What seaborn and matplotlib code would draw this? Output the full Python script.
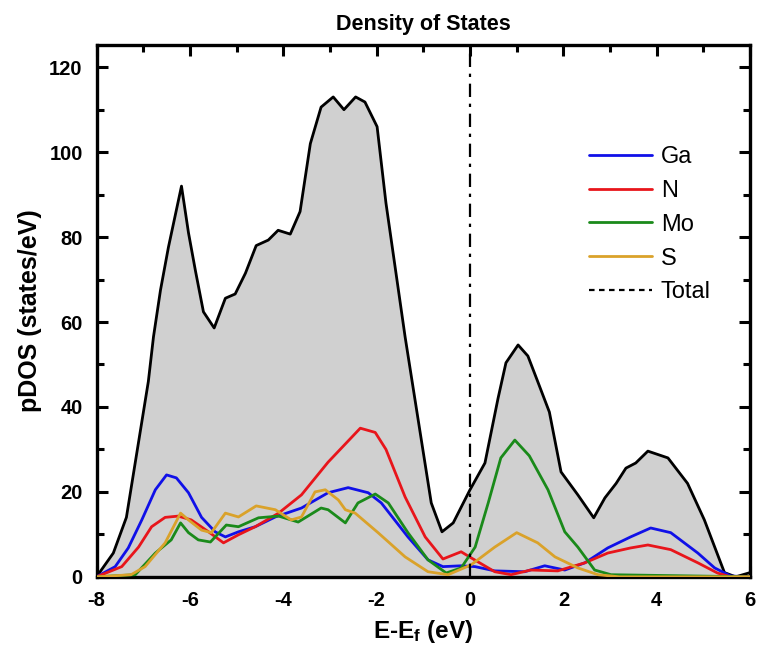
import numpy as np
import pandas as pd
import matplotlib
matplotlib.use("Agg")
import matplotlib.pyplot as plt
from matplotlib.ticker import MultipleLocator
import seaborn as sns

# Total DOS (states/eV) versus E - Ef (eV)
total_e = [-8.0, -7.64, -7.36, -6.89, -6.78, -6.63, -6.46, -6.18, -6.03, -5.88,
           -5.71, -5.48, -5.24, -5.03, -4.81, -4.58, -4.32, -4.11, -3.85, -3.64,
           -3.42, -3.19, -2.93, -2.7, -2.45, -2.25, -1.99, -1.8, -1.39, -0.83,
           -0.6, -0.36, 0.0, 0.32, 0.6, 0.77, 1.03, 1.24, 1.45, 1.7, 1.95, 2.31,
           2.65, 2.89, 3.13, 3.34, 3.55, 3.81, 4.24, 4.66, 5.02, 5.45, 5.69, 6.0]
total_dos = [0.0, 5.6, 14.0, 46.0, 56.5, 67.5, 77.6, 92.0, 81.0, 72.0,
             62.4, 58.6, 65.6, 66.6, 71.5, 78.0, 79.3, 81.6, 80.7, 86.0,
             102.0, 110.6, 113.0, 110.0, 113.0, 111.8, 106.0, 88.0, 56.5, 17.4,
             10.6, 12.7, 20.5, 26.8, 42.0, 50.4, 54.6, 52.0, 46.0, 38.8, 24.7, 19.3,
             13.9, 18.6, 22.0, 25.6, 26.8, 29.6, 28.0, 22.0, 13.4, 1.0, 0.0, 1.0]

# Projected DOS per element
ga_e = [-8.0, -7.6, -7.32, -7.03, -6.74, -6.5, -6.29, -6.03, -5.75, -5.46, -5.24,
        -4.96, -4.6, -4.17, -3.61, -3.04, -2.61, -2.18, -1.9, -1.33, -0.9, -0.58,
        -0.19, 0.11, 0.53, 1.17, 1.6, 2.03, 2.46, 2.95, 3.44, 3.87, 4.3, 4.88,
        5.24, 5.58, 6.0]
ga_dos = [0.0, 2.4, 6.8, 13.4, 20.5, 24.0, 23.3, 19.8, 14.0, 10.6, 9.4,
          10.6, 11.8, 14.1, 16.2, 19.8, 21.0, 19.8, 17.4, 9.4, 4.0, 2.4,
          2.6, 2.4, 1.4, 1.2, 2.6, 1.6, 3.3, 6.8, 9.4, 11.5, 10.4, 5.6,
          2.1, 0.2, 0.0]

n_e = [-8.0, -7.46, -7.1, -6.82, -6.53, -6.25, -5.97, -5.6, -5.28, -4.96, -4.6,
       -4.1, -3.61, -3.04, -2.35, -2.03, -1.8, -1.39, -0.96, -0.58, -0.19, 0.02,
       0.53, 0.88, 1.3, 1.88, 2.46, 2.95, 3.44, 3.81, 4.3, 4.88, 5.3, 5.58, 6.0]
n_dos = [0.0, 2.4, 7.0, 11.8, 14.0, 14.3, 13.4, 10.6, 8.0, 9.9, 11.8,
         15.0, 19.3, 27.0, 35.0, 34.0, 30.0, 18.8, 9.4, 4.2, 5.9, 4.5,
         1.2, 0.5, 1.6, 1.4, 3.3, 5.6, 6.8, 7.5, 6.4, 3.3, 0.9, 0.0, 0.0]

mo_e = [-8.0, -7.17, -6.74, -6.4, -6.2, -6.03, -5.82, -5.56, -5.22, -4.96, -4.53,
        -4.1, -3.68, -3.19, -3.04, -2.67, -2.4, -2.03, -1.75, -1.33, -0.9, -0.51,
        -0.19, 0.11, 0.39, 0.66, 0.96, 1.27, 1.67, 2.03, 2.31, 2.67, 3.02, 6.0]
mo_dos = [0.0, 0.5, 5.6, 8.7, 12.7, 10.4, 8.7, 8.2, 12.2, 11.8, 13.9,
          14.3, 12.9, 16.2, 15.8, 12.7, 17.4, 19.5, 17.4, 10.4, 4.0, 0.9,
          2.1, 7.0, 17.4, 28.0, 32.2, 28.5, 20.5, 10.6, 7.0, 1.6, 0.5, 0.0]

s_e = [-8.0, -7.26, -6.96, -6.53, -6.2, -6.03, -5.75, -5.54, -5.24, -4.96, -4.58,
       -4.17, -3.83, -3.61, -3.32, -3.1, -2.82, -2.67, -2.46, -1.97, -1.39, -0.9,
       -0.47, 0.02, 0.53, 1.0, 1.45, 1.82, 2.31, 2.74, 3.2, 6.0]
s_dos = [0.0, 0.5, 2.4, 8.0, 15.0, 13.4, 11.0, 10.4, 15.0, 14.1, 16.7,
         15.8, 13.4, 14.1, 20.0, 20.5, 18.1, 15.8, 15.0, 10.4, 4.7, 1.2,
         0.5, 2.8, 7.0, 10.4, 8.0, 4.7, 2.1, 0.5, 0.0, 0.0]

x_ticks = [-8, -6, -4, -2, 0, 2, 4, 6]
y_ticks = [0, 20, 40, 60, 80, 100, 120]

sns.set_theme(style="ticks")
plt.rcParams["font.family"] = ["Liberation Sans", "DejaVu Sans"]
plt.rcParams["font.weight"] = "bold"
plt.rcParams["axes.unicode_minus"] = False
for key in ("text.color", "axes.labelcolor", "xtick.color", "ytick.color",
            "axes.edgecolor"):
    plt.rcParams[key] = "black"
plt.rcParams["mathtext.fontset"] = "custom"
plt.rcParams["mathtext.rm"] = "Liberation Sans:bold"
plt.rcParams["mathtext.it"] = "Liberation Sans:bold"
plt.rcParams["mathtext.bf"] = "Liberation Sans:bold"

fig = plt.figure(figsize=(7.6, 6.54), dpi=100)
ax = fig.add_axes([0.127, 0.118, 0.860, 0.813])

# Shaded total DOS
ax.fill_between(total_e, total_dos, 0, color="#d0d0d0", zorder=1, linewidth=0)
sns.lineplot(x=total_e, y=total_dos, ax=ax, color="black", linewidth=2,
             sort=False, zorder=3)

series = [
    ("Ga", ga_e, ga_dos, "#1010e8"),
    ("N", n_e, n_dos, "#e8151b"),
    ("Mo", mo_e, mo_dos, "#1a8a1a"),
    ("S", s_e, s_dos, "#daa22a"),
]
for name, e, d, c in series:
    sns.lineplot(x=e, y=d, ax=ax, color=c, linewidth=2, label=name,
                 sort=False, zorder=4, solid_joinstyle="round")

# Fermi level
ax.axvline(0, color="black", linewidth=1.6, linestyle=(0, (6, 3, 1.5, 3)), zorder=5)

# Legend entry for the total curve
ax.plot([], [], color="black", linestyle=(0, (2.5, 2)), linewidth=1.6, label="Total")

ax.set_xlim(-8, 6)
ax.set_ylim(0, 125.2)
ax.set_xticks(x_ticks)
ax.set_yticks(y_ticks)
ax.xaxis.set_minor_locator(MultipleLocator(1))
ax.yaxis.set_minor_locator(MultipleLocator(10))
ax.tick_params(which="both", direction="in", top=True, right=True, width=2.2,
               labelsize=14.5, pad=10)
ax.tick_params(which="major", length=8)
ax.tick_params(which="minor", length=5)
for lab in ax.get_xticklabels() + ax.get_yticklabels():
    lab.set_fontweight("bold")
for sp in ax.spines.values():
    sp.set_linewidth(2.4)
    sp.set_color("black")

ax.set_title("Density of States", fontsize=15.5, fontweight="bold", pad=11)
ax.set_xlabel(r"E-E$_\mathrm{f}$ (eV)", fontsize=17.5, fontweight="bold", labelpad=6)
ax.set_ylabel("pDOS (states/eV)", fontsize=18, fontweight="bold", labelpad=5)

leg = ax.legend(loc="upper left", bbox_to_anchor=(0.753, 0.81), frameon=False,
                fontsize=17, handlelength=2.7, handletextpad=0.35,
                labelspacing=0.5, borderpad=0, borderaxespad=0)
for t in leg.get_texts():
    t.set_fontweight("normal")

fig.savefig("out.png", dpi=100, facecolor="white")
